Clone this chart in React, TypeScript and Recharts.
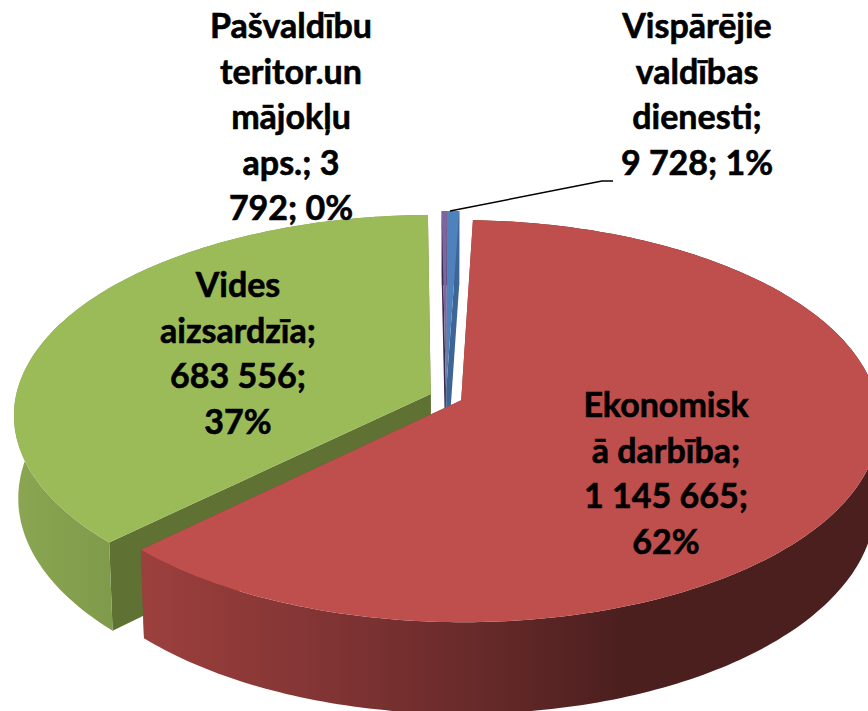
import { Pie, PieChart } from 'recharts'

// order is counter-clockwise from the first slice so the front slices paint last
const categories = ['Vispārējie valdības dienesti', 'Pašvaldību teritor.un mājokļu aps.', 'Vides aizsardzīa', 'Ekonomiskā darbība']
const values = [9728, 3792, 683556, 1145665]
const topColors = ['#4f81bd', '#8064a2', '#9bbb59', '#be4f4c']
const edgeColors = ['#3d6595', '#3a2a50', '#5f7133', '#8f3b39']
const rimColors = ['#3d6595', '#3a2a50', 'url(#greenRim)', 'url(#redRim)']
const labelLines = [
  ['Vispārējie', 'valdības', 'dienesti;', '9 728; 1%'],
  ['Pašvaldību', 'teritor.un', 'mājokļu', 'aps.; 3', '792; 0%'],
  ['Vides', 'aizsardzīa;', '683 556;', '37%'],
  ['Ekonomisk', 'ā darbība;', '1 145 665;', '62%'],
]

const WIDTH = 868
const HEIGHT = 711
const RADIUS = 415
const SQUASH = 0.4776 // tilt of the pie plane
const PERSPECTIVE = 0.104
const DEPTH = 82
const SHRINK = 0.01 // bottom face is slightly smaller than the top
const EXPLODE = 0.04
const LINE_HEIGHT = 45.5

const labelAnchors = [
  { x: 697, y: 38 },
  { x: 291, y: 38 },
  { x: 238, y: 297 },
  { x: 666, y: 417 },
]

const chartData = categories.map((name, i) => ({ name, value: values[i] }))

const rad = (deg: number) => (deg * Math.PI) / 180

// fake 3D: polar position on the pie plane to a screen point
function project(cx: number, cy: number, angle: number, r: number, mid: number, z: number): [number, number] {
  const u = r * Math.cos(rad(angle)) + EXPLODE * RADIUS * Math.cos(rad(mid))
  const v = r * Math.sin(rad(angle)) + EXPLODE * RADIUS * Math.sin(rad(mid))
  const s = 1 / (1 + (PERSPECTIVE * v) / RADIUS)
  const x = cx + u * s * (1 - SHRINK * z)
  const y = cy - v * SQUASH * s + DEPTH * z * s
  return [x, y]
}

const toPath = (pts: [number, number][]) =>
  'M' + pts.map((p) => `${p[0].toFixed(1)},${p[1].toFixed(1)}`).join('L') + 'Z'

function Slice3D(props: any) {
  const { cx, cy, outerRadius, startAngle, endAngle, name } = props
  const index = categories.indexOf(name)
  const mid = (startAngle + endAngle) / 2

  const angles: number[] = []
  for (let a = startAngle; a < endAngle; a += 1) angles.push(a)
  angles.push(endAngle)

  const at = (angle: number, r: number, z: number) => project(cx, cy, angle, r, mid, z)
  const topRim = angles.map((a) => at(a, outerRadius, 0))
  const bottomRim = angles.map((a) => at(a, outerRadius, 1)).reverse()

  const edgeA = [at(startAngle, 0, 0), at(startAngle, outerRadius, 0), at(startAngle, outerRadius, 1), at(startAngle, 0, 1)]
  const edgeB = [at(endAngle, 0, 0), at(endAngle, outerRadius, 0), at(endAngle, outerRadius, 1), at(endAngle, 0, 1)]

  return (
    <g>
      <path d={toPath(edgeA)} fill={edgeColors[index]} />
      <path d={toPath(edgeB)} fill={edgeColors[index]} />
      <path d={toPath([...topRim, ...bottomRim])} fill={rimColors[index]} />
      <path d={toPath([at(startAngle, 0, 0), ...topRim])} fill={topColors[index]} />
    </g>
  )
}

function renderLabel(props: any) {
  const index = categories.indexOf(props.name)
  const anchor = labelAnchors[index]
  return (
    <g key={props.name}>
      {index === 0 && <path d="M450,211L602,181L613,181" fill="none" stroke="#000" strokeWidth={1.5} />}
      <text
        x={anchor.x}
        y={anchor.y}
        textAnchor="middle"
        fontFamily="Lato, 'Open Sans', sans-serif"
        fontWeight={700}
        fontSize={34}
        fill="#000"
        stroke="#000"
        strokeWidth={0.6}
      >
        {labelLines[index].map((line, i) => (
          <tspan key={line} x={anchor.x} y={anchor.y + i * LINE_HEIGHT}>
            {line}
          </tspan>
        ))}
      </text>
    </g>
  )
}

export default function App() {
  return (
    <div style={{ position: 'absolute', left: 0, top: 0, width: WIDTH, height: HEIGHT, overflow: 'hidden', background: '#fff' }}>
      <PieChart width={WIDTH} height={HEIGHT} margin={{ top: 0, right: 0, bottom: 0, left: 0 }}>
        <defs>
          <linearGradient id="redRim" gradientUnits="userSpaceOnUse" x1={142} y1={0} x2={620} y2={0}>
            <stop offset="0" stopColor="#9c403d" />
            <stop offset="0.35" stopColor="#843535" />
            <stop offset="0.7" stopColor="#682a2a" />
            <stop offset="1" stopColor="#4c1f1f" />
          </linearGradient>
          <linearGradient id="greenRim" gradientUnits="userSpaceOnUse" x1={16} y1={0} x2={115} y2={0}>
            <stop offset="0" stopColor="#8aa652" />
            <stop offset="1" stopColor="#7f9a4a" />
          </linearGradient>
        </defs>
        <Pie
          data={chartData}
          dataKey="value"
          nameKey="name"
          cx={446}
          cy={397}
          innerRadius={0}
          outerRadius={RADIUS}
          startAngle={88}
          endAngle={448}
          stroke="none"
          isAnimationActive={false}
          shape={Slice3D}
          label={renderLabel}
          labelLine={false}
        />
      </PieChart>
    </div>
  )
}
